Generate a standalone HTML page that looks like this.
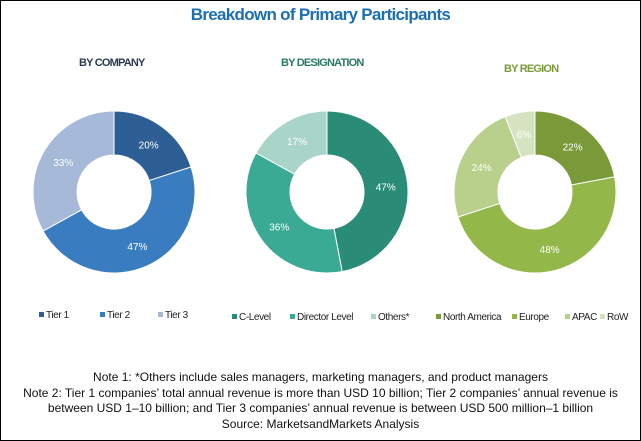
<!DOCTYPE html>
<html><head><meta charset="utf-8"><style>
body{margin:0;background:#fff;}
#wrap{position:relative;width:639px;height:439px;border:1px solid #000;overflow:hidden;font-family:"Liberation Sans",sans-serif;}
.t{position:absolute;white-space:nowrap;}
</style></head><body>
<div id="wrap">
<div class="t" style="left:0;width:639px;text-align:center;top:4px;font-size:17px;font-weight:bold;color:#1a6fb5;letter-spacing:-0.7px;">Breakdown of Primary Participants</div>
<div class="t" style="left:78px;top:56px;font-size:11px;font-weight:bold;color:#2b3a4f;letter-spacing:-0.8px;">BY COMPANY</div>
<div class="t" style="left:280px;top:56px;font-size:11px;font-weight:bold;color:#2a7a66;letter-spacing:-0.8px;">BY DESIGNATION</div>
<div class="t" style="left:503px;top:62px;font-size:11px;font-weight:bold;color:#7a9a3a;letter-spacing:-0.8px;">BY REGION</div>
<svg id="svg" width="641" height="441" style="position:absolute;left:0;top:0"></svg>
<div class="t" style="left:0;width:639px;text-align:center;top:369px;font-size:12px;color:#111;line-height:15.5px;">Note 1: *Others include sales managers, marketing managers, and product managers<br>Note 2: Tier 1 companies’ total annual revenue is more than USD 10 billion; Tier 2 companies’ annual revenue is<br>between USD 1–10 billion; and Tier 3 companies’ annual revenue is between USD 500 million–1 billion<br>Source: MarketsandMarkets Analysis</div>
</div>
<script>
const companyLabels=["Tier 1","Tier 2","Tier 3"];
const companyValues=[20,47,33];
const designationLabels=["C-Level","Director Level","Others*"];
const designationValues=[47,36,17];
const regionLabels=["North America","Europe","APAC","RoW"];
const regionValues=[22,48,24,6];
const NS="http://www.w3.org/2000/svg";
const svg=document.getElementById('svg');
function mk(t,a){const e=document.createElementNS(NS,t);for(const k in a)e.setAttribute(k,a[k]);svg.appendChild(e);return e;}
function donut(name,cx,cy,R,r,vals,labels,colors){
  const tot=vals.reduce((a,b)=>a+b,0);let a0=0;
  vals.forEach((v,i)=>{
    const a1=a0+v/tot*2*Math.PI;
    const p=(a,rad)=>[cx+rad*Math.sin(a),cy-rad*Math.cos(a)];
    const lg=(a1-a0)>Math.PI?1:0;
    const [x0,y0]=p(a0,R),[x1,y1]=p(a1,R),[x2,y2]=p(a1,r),[x3,y3]=p(a0,r);
    const path=mk('path',{d:`M${x0},${y0}A${R},${R} 0 ${lg} 1 ${x1},${y1}L${x2},${y2}A${r},${r} 0 ${lg} 0 ${x3},${y3}Z`,fill:colors[i],stroke:'#fff','stroke-width':1});
    
    
    const am=(a0+a1)/2,[lx,ly]=p(am,(R+r)/2);
    const t=mk('text',{x:lx,y:ly+4,'text-anchor':'middle','font-size':10,'font-family':'Liberation Sans, sans-serif',fill:'#fff'});
    t.textContent=v+'%';
    
    
    a0=a1;
  });
}
function legend(name,x,y,labels,colors,gaps){
  let cx=x;
  labels.forEach((l,i)=>{
    const s=mk('rect',{x:cx,y:y-6,width:5,height:5,fill:colors[i]});
    
    
    const t=mk('text',{x:cx+7,y:y,'font-size':10,'letter-spacing':'-0.4','font-family':'Liberation Sans, sans-serif',fill:'#222'});
    t.textContent=l;
    
    
    cx+=gaps[i];
  });
}
const cC=['#2e5f94','#3a7cc0','#a6b9d8'];
const dC=['#2a8c76','#3aaa94','#a9d5c8'];
const rC=['#7a9a3a','#94b74a','#b9cf8c','#d6e3c0'];
donut('company',113,191,81,37,companyValues,companyLabels,cC);
donut('designation',326,191,81,37,designationValues,designationLabels,dC);
donut('region',534,191,81,37,regionValues,regionLabels,rC);
legend('company',38,317,companyLabels,cC,[61,58,58]);
legend('designation',231,319,designationLabels,dC,[58,81,70]);
legend('region',435,319,regionLabels,rC,[76,53,35,40]);
</script>
</body></html>
